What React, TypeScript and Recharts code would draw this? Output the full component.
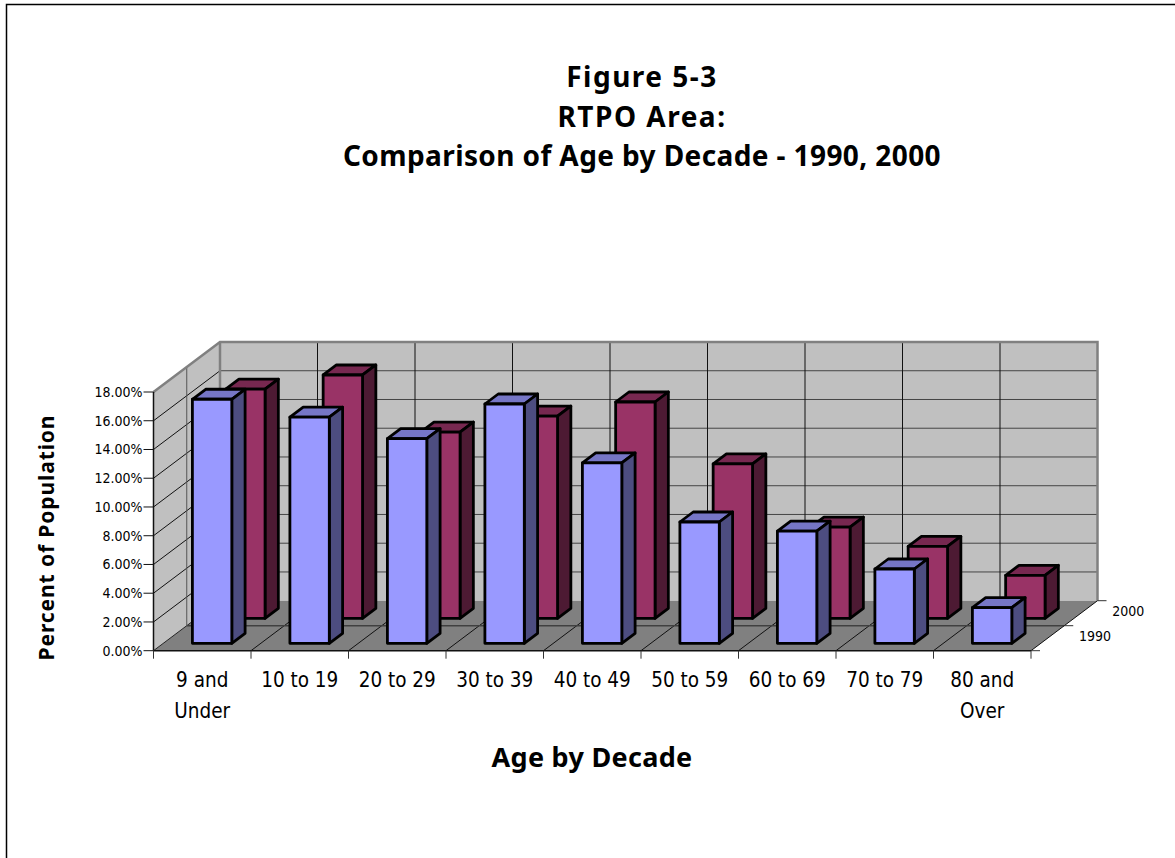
import React from 'react';
import { BarChart, Bar, XAxis, YAxis } from 'recharts';

const ageGroups = ['9 and|Under', '10 to 19', '20 to 29', '30 to 39', '40 to 49', '50 to 59', '60 to 69', '70 to 79', '80 and|Over'];
const share1990 = [16.98, 15.73, 14.24, 16.65, 12.55, 8.44, 7.8, 5.17, 2.48];
const share2000 = [15.94, 16.93, 12.96, 14.07, 15.05, 10.74, 6.35, 5.0, 2.99];
const percentTicks = [0, 2, 4, 6, 8, 10, 12, 14, 16, 18];
const depthLabels = ['1990', '2000'];
const titleLines = ['Figure 5-3', 'RTPO Area:', 'Comparison of Age by Decade - 1990, 2000'];
const titleTracking = [1.5, 1.5, 0.4];

const rows = ageGroups.map((age, i) => ({ age, y1990: share1990[i], y2000: share2000[i] }));

// Plot frame on the front plane and the oblique projection of the chart's depth.
const W = 1175;
const H = 858;
const LEFT = 153.5;
const RIGHT = 1031;
const TOP = 392;
const BOTTOM = 650.7;
const MAX = 18;
const DEPTH_X = 66.5;
const DEPTH_Y = 50;
const BAND = (RIGHT - LEFT) / ageGroups.length;
const BAR_W = 39.4;
const BOX_X = 13.3;
const BOX_Y = 10;
const INSET_X = 9.9;
const INSET_Y = 7.4;

const FONT = '"DejaVu Sans Condensed", "DejaVu Sans", sans-serif';
const BOLD_FONT = '"Noto Sans", sans-serif';
const valueY = (v: number) => BOTTOM - (v / MAX) * (BOTTOM - TOP);

const pts = (list: number[][]) => list.map((p) => p.join(',')).join(' ');

function Walls() {
  const bx = LEFT + DEPTH_X;
  const rx = RIGHT + DEPTH_X;
  const midX = DEPTH_X / 2;
  const midY = DEPTH_Y / 2;
  return (
    <g>
      <polygon points={pts([[LEFT, TOP], [bx, TOP - DEPTH_Y], [bx, BOTTOM - DEPTH_Y], [LEFT, BOTTOM]])} fill="#c0c0c0" />
      <rect x={bx} y={TOP - DEPTH_Y} width={RIGHT - LEFT} height={BOTTOM - TOP} fill="#c0c0c0" />
      <polygon points={pts([[LEFT, BOTTOM], [bx, BOTTOM - DEPTH_Y], [rx, BOTTOM - DEPTH_Y], [RIGHT, BOTTOM]])} fill="#808080" />
      {percentTicks.slice(1, -1).map((t) => {
        const y = valueY(t);
        return (
          <g key={t}>
            <line x1={LEFT} y1={y} x2={bx} y2={y - DEPTH_Y} stroke="#111" strokeWidth={1} />
            <line x1={bx} y1={y - DEPTH_Y} x2={rx} y2={y - DEPTH_Y} stroke="#444" strokeWidth={1} />
          </g>
        );
      })}
      <line x1={LEFT} y1={BOTTOM} x2={bx} y2={BOTTOM - DEPTH_Y} stroke="#222" strokeWidth={1} />
      {ageGroups.slice(1).map((g, i) => {
        const x = LEFT + BAND * (i + 1);
        return (
          <g key={g}>
            <line x1={x} y1={BOTTOM} x2={x + DEPTH_X} y2={BOTTOM - DEPTH_Y} stroke="#111" strokeWidth={1} />
            <line x1={x + DEPTH_X} y1={TOP - DEPTH_Y} x2={x + DEPTH_X} y2={BOTTOM - DEPTH_Y} stroke="#111" strokeWidth={1} />
          </g>
        );
      })}
      {/* Series boundary across the floor and up the side wall */}
      <line x1={LEFT + midX} y1={BOTTOM - midY} x2={RIGHT + midX} y2={BOTTOM - midY} stroke="#404040" strokeWidth={1.5} />
      <line x1={LEFT + midX} y1={TOP - midY} x2={LEFT + midX} y2={BOTTOM - midY} stroke="#555" strokeWidth={1} />
      <polyline
        points={pts([[LEFT, TOP], [bx, TOP - DEPTH_Y], [rx, TOP - DEPTH_Y], [rx, BOTTOM - DEPTH_Y]])}
        fill="none"
        stroke="#808080"
        strokeWidth={2.5}
      />
      <line x1={bx} y1={TOP - DEPTH_Y} x2={bx} y2={BOTTOM - DEPTH_Y} stroke="#808080" strokeWidth={2.5} />
      {/* Depth axis with one label per series */}
      <line x1={RIGHT} y1={BOTTOM} x2={rx} y2={BOTTOM - DEPTH_Y} stroke="#111" strokeWidth={1} />
      {[0, 1, 2].map((k) => {
        const x = RIGHT + midX * k;
        const y = BOTTOM - midY * k;
        return <line key={k} x1={x} y1={y} x2={x + 9} y2={y} stroke="#333" strokeWidth={1} />;
      })}
      {depthLabels.map((label, k) => (
        <text key={label} x={RIGHT + 48 + midX * k} y={BOTTOM - 9.5 - midY * k} fontFamily={FONT} fontSize={14} fill="#000">
          {label}
        </text>
      ))}
    </g>
  );
}

function makeBox(front: string, top: string, side: string, offX: number, offY: number) {
  return function Box(props: any) {
    const w = props.width;
    const h = props.height;
    const x = props.x + offX;
    const y = props.y - offY;
    const common = { stroke: '#000', strokeWidth: 2.8, strokeLinejoin: 'round' as const };
    return (
      <g>
        <polygon points={pts([[x, y], [x + BOX_X, y - BOX_Y], [x + w + BOX_X, y - BOX_Y], [x + w, y]])} fill={top} {...common} />
        <polygon points={pts([[x + w, y], [x + w + BOX_X, y - BOX_Y], [x + w + BOX_X, y + h - BOX_Y], [x + w, y + h]])} fill={side} {...common} />
        <rect x={x} y={y} width={w} height={h} fill={front} {...common} />
      </g>
    );
  };
}

const Box1990 = makeBox('#9999ff', '#7676c6', '#4d4d80', INSET_X, INSET_Y);
const Box2000 = makeBox('#993366', '#772850', '#4d1a33', INSET_X + DEPTH_X / 2, INSET_Y + DEPTH_Y / 2);

function AgeTick(props: any) {
  const { x, payload, index } = props;
  const lines = String(payload.value).split('|');
  const isLast = index === ageGroups.length - 1;
  return (
    <g>
      <line x1={x - BAND / 2} y1={BOTTOM} x2={x - BAND / 2} y2={BOTTOM + 8} stroke="#333" />
      {isLast && <line x1={x + BAND / 2} y1={BOTTOM} x2={x + BAND / 2} y2={BOTTOM + 8} stroke="#333" />}
      <text textAnchor="middle" fontFamily={FONT} fontSize={20.5} fill="#000">
        {lines.map((line, i) => (
          <tspan key={line} x={x} y={BOTTOM + 36 + i * 31}>
            {line}
          </tspan>
        ))}
      </text>
    </g>
  );
}

export default function App() {
  return (
    <div style={{ position: 'absolute', left: 0, top: 0, width: W, height: H, overflow: 'hidden' }}>
      <BarChart
        width={W}
        height={H}
        data={rows}
        margin={{ top: TOP, left: LEFT - 60, right: W - RIGHT, bottom: H - BOTTOM - 60 }}
        barSize={BAR_W}
      >
        <polyline points={pts([[6.5, H + 2], [6.5, 4.5], [W + 2, 4.5]])} fill="none" stroke="#000" strokeWidth={1.5} />
        {titleLines.map((line, i) => (
          <text
            key={line}
            x={642}
            y={87 + i * 39.5}
            textAnchor="middle"
            fontFamily={BOLD_FONT}
            fontWeight="bold"
            fontSize={28}
            letterSpacing={titleTracking[i]}
            fill="#000"
          >
            {line}
          </text>
        ))}
        <text x={592} y={767} textAnchor="middle" fontFamily={BOLD_FONT} fontWeight="bold" fontSize={27} letterSpacing={0.3} fill="#000">
          Age by Decade
        </text>
        <text
          transform="translate(54,537.5) rotate(-90)"
          textAnchor="middle"
          fontFamily={BOLD_FONT}
          fontWeight="bold"
          fontSize={21}
          letterSpacing={0.9}
          fill="#000"
        >
          Percent of Population
        </text>
        <Walls />
        <XAxis
          xAxisId="front"
          dataKey="age"
          height={60}
          interval={0}
          tickLine={false}
          axisLine={{ stroke: '#111', strokeWidth: 1.5 }}
          tick={<AgeTick />}
        />
        <XAxis xAxisId="back" dataKey="age" height={0} hide />
        <YAxis
          width={60}
          domain={[0, MAX]}
          ticks={percentTicks}
          interval={0}
          tickSize={10}
          tickMargin={1}
          tickFormatter={(v: number) => `${v.toFixed(2)}%`}
          tick={{ fontFamily: FONT, fontSize: 14, fill: '#000' }}
          tickLine={{ stroke: '#111' }}
          axisLine={{ stroke: '#111', strokeWidth: 1.5 }}
        />
        <Bar xAxisId="back" dataKey="y2000" shape={<Box2000 />} isAnimationActive={false} />
        <Bar xAxisId="front" dataKey="y1990" shape={<Box1990 />} isAnimationActive={false} />
      </BarChart>
    </div>
  );
}
